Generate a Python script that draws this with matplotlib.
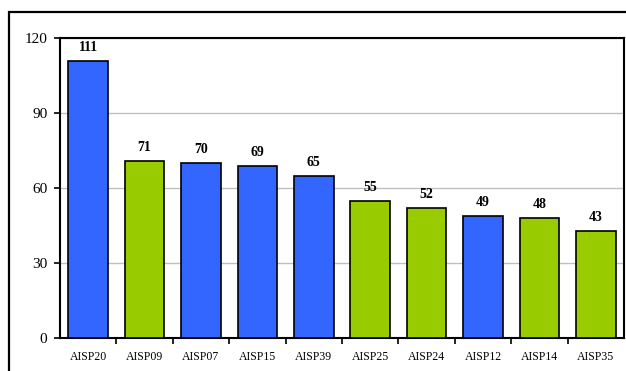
import matplotlib
matplotlib.use('Agg')
import matplotlib.pyplot as plt
from matplotlib.patches import Rectangle
import numpy as np

# 数据
categories = ['AISP20', 'AISP09', 'AISP07', 'AISP15', 'AISP39',
              'AISP25', 'AISP24', 'AISP12', 'AISP14', 'AISP35']
values = [111, 71, 70, 69, 65, 55, 52, 49, 48, 43]
groups = ['b', 'g', 'b', 'b', 'b', 'g', 'g', 'b', 'g', 'g']
y_ticks = [0, 30, 60, 90, 120]

colors = {'b': '#3366FF', 'g': '#99CC00'}

plt.rcParams['font.family'] = ['Liberation Serif', 'DejaVu Serif']

W, H = 626, 371
fig = plt.figure(figsize=(W / 100, H / 100), dpi=100)

# 外框
fig.patches.append(Rectangle((9 / W, -0.05), 1.2, 1 - 12 / H + 0.05,
                             transform=fig.transFigure, fill=False,
                             edgecolor='black', linewidth=1.6))

ax = fig.add_axes([60 / W, 1 - 338 / H, 564 / W, 300 / H])

x = np.arange(len(categories))
bars = ax.bar(x, values, width=0.7,
              color=[colors[g] for g in groups],
              edgecolor='black', linewidth=1.2, zorder=3)

for xi, v in zip(x, values):
    ax.annotate(str(v), (xi, v), xytext=(0, 5), textcoords='offset points',
                ha='center', va='bottom', fontsize=10, fontweight='bold')

ax.set_xlim(-0.5, len(categories) - 0.5)
ax.set_ylim(0, 120)
ax.set_yticks(y_ticks)
ax.tick_params(axis='y', labelsize=11, length=4, width=1.2, direction='out', pad=5)

# 类别标签居中，刻度线放在分隔处
ax.set_xticks(x)
ax.set_xticklabels(categories, fontsize=8.5)
ax.tick_params(axis='x', which='major', length=0, pad=9)
ax.set_xticks(np.arange(0.5, len(categories) - 0.5, 1), minor=True)
ax.tick_params(axis='x', which='minor', length=4, width=1.2, direction='out')

ax.yaxis.grid(True, color='#c0c0c0', linewidth=1, zorder=0)
ax.set_axisbelow(True)

for s in ax.spines.values():
    s.set_linewidth(1.5)
    s.set_color('black')

fig.savefig('out.png', dpi=100)
